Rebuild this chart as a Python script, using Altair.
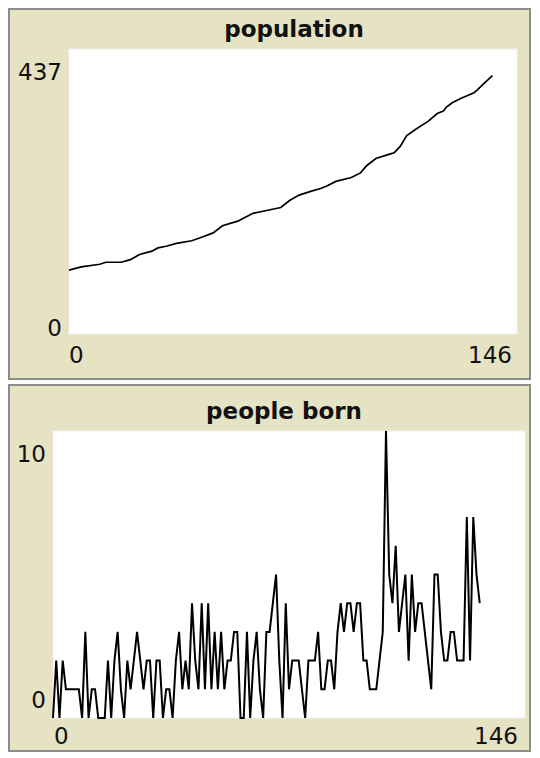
import altair as alt
import pandas as pd

# ---------------- data ----------------
panel_titles = ["population", "people born"]

x_max = 146
x_labels = ["0", "146"]

pop_y_max = 437
pop_y_labels = ["0", "437"]
pop_ticks = [0, 4, 10, 12, 17, 20, 23, 27, 29, 32, 35, 40, 43, 47, 50, 55, 57, 60, 64, 69,
             72, 75, 79, 82, 84, 87, 92, 95, 97, 100, 104, 106, 108, 110, 113, 117, 120,
             122, 123, 125, 128, 132, 133, 135, 138]
pop_values = [98, 103, 107, 110, 110, 114, 122, 127, 132, 135, 139, 143, 148, 155, 166,
              173, 178, 185, 189, 194, 205, 213, 219, 223, 227, 234, 240, 247, 258, 269,
              275, 278, 288, 304, 314, 326, 338, 342, 348, 355, 362, 370, 374, 383, 396]

born_y_max = 10
born_y_labels = ["0", "10"]
born_values = [0, 2, 0, 2, 1, 1, 1, 1, 1, 0,
               3, 0, 1, 1, 0, 0, 0, 2, 0, 2,
               3, 1, 0, 2, 1, 2, 3, 2, 1, 2,
               2, 0, 2, 2, 0, 1, 1, 0, 2, 3,
               1, 2, 1, 4, 2, 1, 4, 1, 4, 1,
               3, 1, 3, 1, 2, 2, 3, 3, 0, 0,
               3, 0, 2, 3, 1, 0, 3, 3, 4, 5,
               2, 0, 4, 1, 2, 2, 2, 1, 0, 2,
               2, 2, 3, 1, 1, 2, 2, 1, 3, 4,
               3, 4, 4, 3, 4, 4, 2, 2, 1, 1,
               1, 2, 3, 10, 5, 4, 6, 3, 4, 5,
               2, 5, 3, 4, 4, 3, 2, 1, 5, 5,
               3, 2, 2, 3, 3, 2, 2, 2, 7, 2,
               7, 5, 4]
born_ticks = list(range(len(born_values)))

# ---------------- styling ----------------
BEIGE = "#E6E2C4"
FRAME = "#8c8c8c"
FONT = "DejaVu Sans"
PANEL_W = 521


def panel(ticks, values, title, y_max, y_labels, xrange, yrange, height,
          top_dy, bot_dy, xlab_dy, x0_dx, x1_dx, title_x, title_y, line_w):
    df = pd.DataFrame({"t": ticks, "v": values})
    xs = alt.Scale(domain=[0, x_max], range=xrange, nice=False, zero=False)
    ys = alt.Scale(domain=[0, y_max], range=yrange, nice=False, zero=False)

    frame_df = pd.DataFrame({"x0": [0], "x1": [x_max], "y0": [0], "y1": [y_max]})
    plot_bg = alt.Chart(frame_df).mark_rect(fill="white", stroke="#f4f2ea", strokeWidth=1).encode(
        x=alt.X("x0:Q", scale=xs, axis=None), x2="x1:Q",
        y=alt.Y("y0:Q", scale=ys, axis=None), y2="y1:Q")

    line = alt.Chart(df).mark_line(color="black", strokeWidth=line_w, strokeJoin="miter").encode(
        x=alt.X("t:Q", scale=xs, axis=None),
        y=alt.Y("v:Q", scale=ys, axis=None))

    def lab(xv, yv, text, align, dx, dy):
        return alt.Chart(frame_df).mark_text(
            align=align, baseline="middle", dx=dx, dy=dy,
            font=FONT, fontSize=23, color="#111111").encode(
            x=alt.datum(xv), y=alt.datum(yv), text=alt.value(text))

    labels = [
        lab(0, y_max, y_labels[1], "right", -7, top_dy),
        lab(0, 0, y_labels[0], "right", -7, bot_dy),
        lab(0, 0, x_labels[0], "left", x0_dx, xlab_dy),
        lab(x_max, 0, x_labels[1], "right", x1_dx, xlab_dy),
    ]

    ttl = alt.Chart(frame_df).mark_text(
        align="center", baseline="alphabetic", font=FONT, fontSize=23,
        fontWeight="bold", color="#111111").encode(
        x=alt.value(title_x), y=alt.value(title_y), text=alt.value(title))

    return alt.layer(plot_bg, line, *labels, ttl).properties(width=PANEL_W, height=height)


top = panel(pop_ticks, pop_values, panel_titles[0], pop_y_max, pop_y_labels,
            [60, 508], [325, 40], 370,
            top_dy=24, bot_dy=-5, xlab_dy=22, x0_dx=0, x1_dx=-5,
            title_x=285, title_y=28, line_w=1.7)

bottom = panel(born_ticks, born_values, panel_titles[1], born_y_max, born_y_labels,
               [44, 516], [333, 46], 366,
               top_dy=24, bot_dy=-17, xlab_dy=19, x0_dx=1, x1_dx=-7,
               title_x=275, title_y=34, line_w=2)

chart = alt.vconcat(top, bottom, spacing=4).properties(
    padding=0, background="white"
).configure_view(fill=BEIGE, stroke=FRAME, strokeWidth=2)

chart.save("out.html", embed_options={"renderer": "svg", "actions": False})
